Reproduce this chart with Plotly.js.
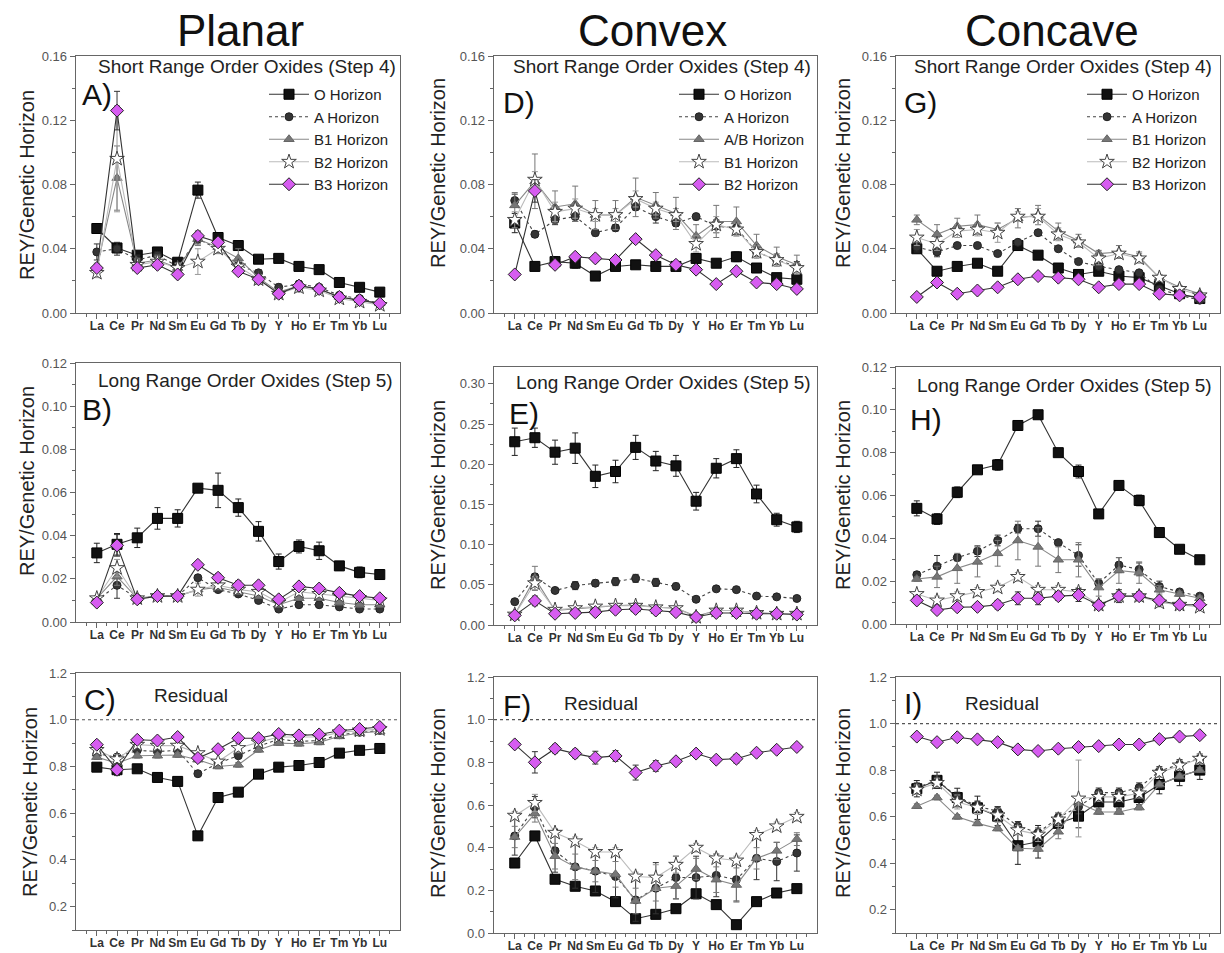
<!DOCTYPE html>
<html><head><meta charset="utf-8">
<script src="https://cdn.plot.ly/plotly-3.0.1.min.js"></script>
<style>html,body{margin:0;padding:0;background:#fff}#chart{width:1224px;height:953px}</style>
</head><body><div id="chart"></div>
<script>
// ---------- DATA ----------
const categories = ['La','Ce','Pr','Nd','Sm','Eu','Gd','Tb','Dy','Y','Ho','Er','Tm','Yb','Lu'];
const columnTitles = ['Planar','Convex','Concave'];
const planarNames  = ['O Horizon','A Horizon','B1 Horizon','B2 Horizon','B3 Horizon'];
const convexNames  = ['O Horizon','A Horizon','A/B Horizon','B1 Horizon','B2 Horizon'];
const concaveNames = ['O Horizon','A Horizon','B1 Horizon','B2 Horizon','B3 Horizon'];
const step4Title = 'Short Range Order Oxides (Step 4)';
const step5Title = 'Long Range Order Oxides (Step 5)';
const residualTitle = 'Residual';
const yTitle = 'REY/Genetic Horizon';

// Panel A (Planar, step 4)
const A_O   = [0.0526,0.0405,0.036,0.038,0.0316,0.0765,0.047,0.042,0.0335,0.034,0.029,0.027,0.019,0.016,0.013];
const A_A   = [0.038,0.040,0.033,0.036,0.029,0.046,0.040,0.030,0.025,0.016,0.018,0.016,0.011,0.009,0.006];
const A_B1  = [0.028,0.084,0.031,0.033,0.028,0.046,0.041,0.034,0.022,0.013,0.017,0.015,0.010,0.008,0.006];
const A_B2  = [0.025,0.096,0.030,0.032,0.028,0.032,0.040,0.029,0.021,0.012,0.016,0.014,0.009,0.007,0.005];
const A_B3  = [0.028,0.126,0.028,0.030,0.024,0.048,0.044,0.026,0.021,0.012,0.017,0.015,0.010,0.008,0.006];
const A_Oe  = [0.002,0.003,0.002,0.002,0.002,0.005,0.002,0.002,0.001,0.001,0.001,0.001,0.001,0.001,0.001];
const A_Ae  = [0.005,0.004,0.003,0.002,0.002,0.003,0.003,0.002,0.002,0.002,0.002,0.001,0.001,0.001,0.001];
const A_B1e = [0.003,0.020,0.003,0.003,0.003,0.004,0.003,0.006,0.002,0.002,0.002,0.001,0.001,0.001,0.001];
const A_B2e = [0.003,0.033,0.003,0.003,0.003,0.008,0.003,0.003,0.003,0.002,0.003,0.002,0.001,0.001,0.001];
const A_B3e = [0.002,0.012,0.002,0.002,0.002,0.003,0.002,0.002,0.002,0.002,0.002,0.001,0.001,0.001,0.001];

// Panel D (Convex, step 4)
const D_O   = [0.056,0.029,0.032,0.031,0.023,0.029,0.030,0.029,0.029,0.034,0.031,0.035,0.028,0.022,0.021];
const D_A   = [0.070,0.049,0.058,0.060,0.050,0.053,0.066,0.060,0.056,0.060,0.054,0.053,0.038,0.033,0.029];
const D_AB  = [0.067,0.082,0.066,0.068,0.061,0.061,0.072,0.067,0.062,0.048,0.057,0.057,0.042,0.035,0.030];
const D_B1  = [0.058,0.083,0.063,0.065,0.061,0.061,0.071,0.065,0.061,0.043,0.055,0.052,0.038,0.033,0.028];
const D_B2  = [0.024,0.076,0.030,0.035,0.034,0.033,0.046,0.036,0.030,0.027,0.018,0.026,0.019,0.018,0.015];
const D_Oe  = [0.006,0.002,0.003,0.003,0.002,0.002,0.002,0.002,0.002,0.003,0.002,0.003,0.002,0.002,0.002];
const D_Ae  = [0.004,0.002,0.003,0.003,0.002,0.002,0.002,0.004,0.002,0.002,0.004,0.004,0.003,0.003,0.003];
const D_ABe = [0.008,0.017,0.010,0.011,0.009,0.009,0.012,0.008,0.010,0.007,0.010,0.009,0.007,0.006,0.006];
const D_B1e = [0.005,0.005,0.006,0.006,0.004,0.004,0.005,0.004,0.004,0.005,0.005,0.004,0.004,0.004,0.003];
const D_B2e = [0.001,0.007,0.001,0.001,0.002,0.001,0.001,0.002,0.001,0.001,0.001,0.001,0.001,0.001,0.001];

// Panel G (Concave, step 4)
const G_O   = [0.040,0.026,0.029,0.031,0.026,0.042,0.036,0.028,0.024,0.026,0.023,0.022,0.017,0.012,0.009];
const G_A   = [0.041,0.038,0.042,0.042,0.037,0.044,0.050,0.040,0.032,0.029,0.027,0.025,0.015,0.011,0.008];
const G_B1  = [0.058,0.049,0.054,0.055,0.052,0.059,0.061,0.051,0.045,0.037,0.038,0.035,0.022,0.016,0.012];
const G_B2  = [0.047,0.043,0.051,0.052,0.050,0.060,0.060,0.049,0.044,0.034,0.037,0.034,0.022,0.015,0.011];
const G_B3  = [0.010,0.019,0.012,0.014,0.016,0.021,0.023,0.022,0.021,0.016,0.018,0.018,0.012,0.011,0.010];
const G_Oe  = [0.002,0.001,0.001,0.001,0.001,0.001,0.001,0.001,0.001,0.001,0.001,0.001,0.001,0.001,0.001];
const G_Ae  = [0.003,0.003,0.001,0.001,0.001,0.001,0.001,0.001,0.001,0.001,0.001,0.001,0.001,0.001,0.001];
const G_B1e = [0.003,0.006,0.005,0.006,0.004,0.006,0.006,0.005,0.004,0.002,0.004,0.003,0.002,0.001,0.001];
const G_B2e = [0.005,0.004,0.004,0.004,0.006,0.003,0.005,0.004,0.003,0.004,0.002,0.003,0.002,0.001,0.001];
const G_B3e = [0.001,0.001,0.001,0.001,0.001,0.001,0.001,0.001,0.001,0.001,0.001,0.001,0.001,0.001,0.001];

// Panel B (Planar, step 5)
const B_O   = [0.032,0.036,0.039,0.048,0.048,0.062,0.061,0.053,0.042,0.028,0.035,0.033,0.026,0.023,0.022];
const B_A   = [0.010,0.017,0.011,0.012,0.012,0.0205,0.015,0.013,0.010,0.006,0.008,0.008,0.007,0.006,0.006];
const B_B1  = [0.011,0.021,0.011,0.012,0.012,0.015,0.016,0.014,0.012,0.008,0.011,0.011,0.009,0.008,0.008];
const B_B2  = [0.011,0.025,0.011,0.012,0.012,0.015,0.017,0.015,0.014,0.009,0.014,0.013,0.012,0.011,0.010];
const B_B3  = [0.009,0.0355,0.0105,0.012,0.012,0.0265,0.0205,0.017,0.017,0.0105,0.0165,0.0155,0.0135,0.012,0.011];
const B_Oe  = [0.0045,0.005,0.0045,0.005,0.004,0.0015,0.008,0.004,0.0045,0.0035,0.003,0.004,0.002,0.0025,0.001];
const B_Ae  = [0.001,0.006,0.001,0.001,0.001,0.001,0.001,0.001,0.001,0.001,0.001,0.001,0.001,0.001,0.001];
const B_B1e = [0.001,0.004,0.001,0.001,0.001,0.001,0.001,0.001,0.001,0.001,0.001,0.001,0.001,0.001,0.001];
const B_B2e = [0.001,0.004,0.001,0.002,0.001,0.003,0.001,0.001,0.001,0.001,0.001,0.001,0.001,0.001,0.001];
const B_B3e = [0.001,0.005,0.001,0.001,0.001,0.001,0.002,0.002,0.001,0.001,0.001,0.001,0.001,0.001,0.001];

// Panel E (Convex, step 5)
const E_O   = [0.228,0.233,0.215,0.220,0.185,0.191,0.221,0.204,0.198,0.154,0.195,0.207,0.163,0.131,0.122];
const E_A   = [0.029,0.060,0.043,0.049,0.052,0.054,0.058,0.053,0.048,0.032,0.045,0.044,0.036,0.035,0.033];
const E_AB  = [0.013,0.058,0.018,0.020,0.022,0.024,0.025,0.022,0.021,0.011,0.018,0.018,0.015,0.014,0.014];
const E_B1  = [0.013,0.052,0.019,0.021,0.023,0.024,0.024,0.022,0.021,0.010,0.018,0.018,0.015,0.014,0.014];
const E_B2  = [0.012,0.030,0.014,0.015,0.016,0.019,0.020,0.018,0.016,0.010,0.015,0.015,0.014,0.014,0.013];
const E_Oe  = [0.017,0.012,0.015,0.019,0.014,0.014,0.015,0.012,0.013,0.011,0.012,0.011,0.011,0.008,0.007];
const E_Ae  = [0.002,0.004,0.003,0.005,0.004,0.005,0.005,0.005,0.004,0.002,0.003,0.003,0.002,0.002,0.002];
const E_ABe = [0.002,0.015,0.002,0.002,0.002,0.002,0.002,0.002,0.002,0.002,0.002,0.002,0.002,0.002,0.002];
const E_B1e = [0.002,0.008,0.002,0.002,0.002,0.002,0.002,0.002,0.002,0.002,0.002,0.002,0.002,0.002,0.002];
const E_B2e = [0.002,0.006,0.002,0.002,0.002,0.002,0.002,0.002,0.002,0.002,0.002,0.002,0.002,0.002,0.002];

// Panel H (Concave, step 5)
const H_O   = [0.054,0.049,0.0615,0.072,0.0743,0.0927,0.0977,0.080,0.0712,0.0514,0.0647,0.0577,0.0427,0.0349,0.030];
const H_A   = [0.023,0.027,0.031,0.034,0.039,0.0445,0.0445,0.038,0.032,0.019,0.0275,0.0255,0.0175,0.015,0.013];
const H_B1  = [0.021,0.022,0.026,0.029,0.033,0.039,0.036,0.030,0.030,0.017,0.025,0.024,0.016,0.014,0.012];
const H_B2  = [0.014,0.011,0.013,0.015,0.017,0.022,0.016,0.016,0.015,0.009,0.013,0.013,0.010,0.009,0.008];
const H_B3  = [0.011,0.0065,0.0078,0.008,0.009,0.012,0.012,0.013,0.0135,0.0088,0.013,0.013,0.011,0.009,0.009];
const H_Oe  = [0.0035,0.0025,0.0025,0.0015,0.0025,0.0015,0.0015,0.0007,0.003,0.0015,0.0007,0.0025,0.0015,0.0007,0.0015];
const H_Ae  = [0.0015,0.005,0.0015,0.0025,0.0025,0.002,0.0035,0.001,0.005,0.002,0.0035,0.003,0.0025,0.001,0.001];
const H_B1e = [0.001,0.005,0.007,0.007,0.006,0.009,0.009,0.006,0.008,0.004,0.006,0.005,0.002,0.001,0.001];
const H_B2e = [0.001,0.002,0.002,0.002,0.002,0.002,0.002,0.002,0.002,0.002,0.002,0.002,0.002,0.001,0.001];
const H_B3e = [0.001,0.001,0.001,0.001,0.002,0.003,0.003,0.002,0.003,0.001,0.003,0.002,0.002,0.001,0.001];

// Panel C (Planar, residual)
const C_O   = [0.797,0.786,0.790,0.753,0.736,0.503,0.667,0.690,0.767,0.797,0.804,0.817,0.857,0.869,0.877];
const C_A   = [0.854,0.840,0.869,0.864,0.869,0.769,0.814,0.846,0.886,0.917,0.907,0.911,0.936,0.946,0.954];
const C_B1  = [0.840,0.814,0.846,0.846,0.849,0.829,0.800,0.807,0.871,0.900,0.897,0.903,0.929,0.943,0.950];
const C_B2  = [0.871,0.831,0.893,0.889,0.889,0.857,0.821,0.879,0.903,0.926,0.926,0.926,0.946,0.954,0.960];
const C_B3  = [0.893,0.786,0.914,0.911,0.926,0.836,0.874,0.921,0.921,0.939,0.933,0.937,0.953,0.960,0.969];
const C_Oe  = [0.008,0.008,0.008,0.008,0.008,0.008,0.008,0.008,0.008,0.008,0.008,0.008,0.008,0.008,0.008];
const C_Ae  = [0.010,0.010,0.010,0.010,0.010,0.010,0.010,0.010,0.010,0.010,0.010,0.010,0.010,0.010,0.010];
const C_B1e = [0.010,0.020,0.010,0.010,0.010,0.010,0.010,0.010,0.010,0.010,0.010,0.010,0.010,0.010,0.010];
const C_B2e = [0.010,0.020,0.010,0.010,0.010,0.010,0.010,0.020,0.010,0.010,0.010,0.010,0.010,0.010,0.010];
const C_B3e = [0.010,0.025,0.010,0.010,0.010,0.010,0.010,0.010,0.010,0.010,0.010,0.010,0.010,0.010,0.010];

// Panel F (Convex, residual)
const F_O   = [0.328,0.455,0.252,0.219,0.197,0.147,0.067,0.0875,0.114,0.184,0.133,0.039,0.147,0.1875,0.208];
const F_A   = [0.455,0.590,0.385,0.310,0.290,0.265,0.155,0.210,0.260,0.260,0.270,0.250,0.350,0.335,0.375];
const F_AB  = [0.450,0.560,0.360,0.310,0.290,0.275,0.150,0.210,0.220,0.300,0.250,0.225,0.350,0.385,0.440];
const F_B1  = [0.550,0.610,0.470,0.430,0.380,0.380,0.265,0.260,0.320,0.400,0.350,0.340,0.460,0.500,0.545];
const F_B2  = [0.884,0.800,0.864,0.841,0.822,0.830,0.752,0.783,0.805,0.841,0.8125,0.817,0.845,0.859,0.872];
const F_Oe  = [0.010,0.010,0.010,0.010,0.010,0.010,0.015,0.010,0.010,0.010,0.010,0.010,0.010,0.010,0.010];
const F_Ae  = [0.090,0.050,0.100,0.100,0.100,0.100,0.100,0.120,0.100,0.100,0.100,0.100,0.100,0.090,0.085];
const F_ABe = [0.050,0.040,0.060,0.060,0.050,0.060,0.060,0.060,0.060,0.050,0.060,0.080,0.050,0.040,0.030];
const F_B1e = [0.020,0.040,0.020,0.020,0.020,0.020,0.020,0.060,0.040,0.020,0.020,0.020,0.020,0.020,0.020];
const F_B2e = [0.010,0.050,0.020,0.020,0.030,0.025,0.035,0.025,0.015,0.010,0.015,0.020,0.010,0.010,0.010];

// Panel I (Concave, residual)
const I_O   = [0.720,0.756,0.682,0.638,0.602,0.475,0.492,0.571,0.602,0.663,0.663,0.682,0.738,0.773,0.800];
const I_A   = [0.725,0.756,0.685,0.645,0.623,0.559,0.531,0.596,0.642,0.703,0.703,0.725,0.795,0.825,0.849];
const I_B1  = [0.645,0.682,0.599,0.571,0.549,0.464,0.461,0.535,0.660,0.620,0.620,0.639,0.738,0.773,0.800];
const I_B2  = [0.716,0.745,0.663,0.639,0.606,0.542,0.523,0.588,0.678,0.685,0.685,0.700,0.789,0.820,0.849];
const I_B3  = [0.944,0.920,0.941,0.932,0.920,0.889,0.882,0.892,0.899,0.903,0.910,0.910,0.933,0.944,0.950];
const I_Oe  = [0.035,0.035,0.040,0.050,0.040,0.080,0.070,0.040,0.050,0.030,0.030,0.030,0.040,0.040,0.040];
const I_Ae  = [0.020,0.020,0.020,0.020,0.020,0.020,0.020,0.020,0.030,0.020,0.020,0.020,0.020,0.020,0.020];
const I_B1e = [0.010,0.010,0.010,0.010,0.010,0.010,0.010,0.030,0.010,0.010,0.010,0.010,0.010,0.010,0.010];
const I_B2e = [0.020,0.020,0.030,0.030,0.030,0.020,0.030,0.030,0.165,0.020,0.020,0.020,0.020,0.020,0.020];
const I_B3e = [0.005,0.005,0.005,0.005,0.005,0.005,0.005,0.005,0.005,0.005,0.005,0.005,0.005,0.005,0.005];

// ---------- STYLE / LAYOUT ----------
const W = 1224, H = 953;
const FONT = 'Liberation Sans, Arial, Helvetica, sans-serif';
const VIOLET = '#D65CF0';
const styles = [
  {symbol:'square',      size:10, fill:'#111111', mline:'#000000', lcolor:'#333333', dash:'solid', ecolor:'#222222'},
  {symbol:'circle',      size:8,  fill:'#353535', mline:'#222222', lcolor:'#444444', dash:'dot',   ecolor:'#333333'},
  {symbol:'triangle-up', size:9,  fill:'#777777', mline:'#666666', lcolor:'#888888', dash:'solid', ecolor:'#777777'},
  {symbol:'star',        size:11, fill:'#ffffff', mline:'#444444', lcolor:'#bbbbbb', dash:'solid', ecolor:'#999999'},
  {symbol:'diamond',     size:10, fill:VIOLET,    mline:'#222222', lcolor:'#333333', dash:'solid', ecolor:'#333333'}
];

const px = x => x / W;
const py = y => 1 - y / H;

// panel frames in pixels [left, right, top, bottom]
const frames = [
  [76,400,56,313],[494,817,56,313],[896,1220,56,313],
  [76,400,363,622],[494,817,367,625],[896,1220,367,624],
  [76,400,673,930],[494,817,677,933],[896,1220,677,933]
];
const yRanges = [[0,0.16],[0,0.16],[0,0.16],[0,0.12],[0,0.321],[0,0.12],[0.1,1.2],[0,1.2],[0.1,1.2]];
const yDticks = [0.04,0.04,0.04,0.02,0.05,0.02,0.2,0.2,0.2];
const yFormats = ['.2f','.2f','.2f','.2f','.2f','.2f','.1f','.1f','.1f'];

const panels = [
  {names:planarNames,  ys:[A_O,A_A,A_B1,A_B2,A_B3], es:[A_Oe,A_Ae,A_B1e,A_B2e,A_B3e], legend:'legend'},
  {names:convexNames,  ys:[D_O,D_A,D_AB,D_B1,D_B2], es:[D_Oe,D_Ae,D_ABe,D_B1e,D_B2e], legend:'legend2'},
  {names:concaveNames, ys:[G_O,G_A,G_B1,G_B2,G_B3], es:[G_Oe,G_Ae,G_B1e,G_B2e,G_B3e], legend:'legend3'},
  {names:planarNames,  ys:[B_O,B_A,B_B1,B_B2,B_B3], es:[B_Oe,B_Ae,B_B1e,B_B2e,B_B3e]},
  {names:convexNames,  ys:[E_O,E_A,E_AB,E_B1,E_B2], es:[E_Oe,E_Ae,E_ABe,E_B1e,E_B2e]},
  {names:concaveNames, ys:[H_O,H_A,H_B1,H_B2,H_B3], es:[H_Oe,H_Ae,H_B1e,H_B2e,H_B3e]},
  {names:planarNames,  ys:[C_O,C_A,C_B1,C_B2,C_B3], es:[C_Oe,C_Ae,C_B1e,C_B2e,C_B3e]},
  {names:convexNames,  ys:[F_O,F_A,F_AB,F_B1,F_B2], es:[F_Oe,F_Ae,F_ABe,F_B1e,F_B2e]},
  {names:concaveNames, ys:[I_O,I_A,I_B1,I_B2,I_B3], es:[I_Oe,I_Ae,I_B1e,I_B2e,I_B3e]}
];

const xIdx = categories.map((_, i) => i);
const traces = [];
const layout = {
  width: W, height: H,
  margin: {l:0, r:0, t:0, b:0},
  paper_bgcolor: '#ffffff', plot_bgcolor: '#ffffff',
  font: {family: FONT, color: '#222'},
  showlegend: true,
  annotations: [], shapes: []
};

panels.forEach((p, k) => {
  const n = k + 1;
  const xs = n === 1 ? 'x' : 'x' + n;
  const ys = n === 1 ? 'y' : 'y' + n;
  p.ys.forEach((vals, s) => {
    const st = styles[s];
    traces.push({
      type: 'scatter', mode: 'lines+markers',
      x: xIdx, y: vals, xaxis: xs, yaxis: ys,
      name: p.names[s],
      showlegend: !!p.legend,
      legend: p.legend || 'legend',
      line: {color: st.lcolor, width: 1.1, dash: st.dash},
      marker: {symbol: st.symbol, size: st.size, color: st.fill, line: {color: st.mline, width: 1}},
      error_y: {type: 'data', array: p.es[s], visible: true, color: st.ecolor, thickness: 1, width: 3},
      hoverinfo: 'skip'
    });
  });
  const f = frames[k];
  const xKey = n === 1 ? 'xaxis' : 'xaxis' + n;
  const yKey = n === 1 ? 'yaxis' : 'yaxis' + n;
  layout[xKey] = {
    domain: [px(f[0]), px(f[1])], anchor: ys,
    range: [-1.03, 15.0],
    tickmode: 'array', tickvals: xIdx, ticktext: categories,
    ticks: 'outside', ticklen: 5, tickcolor: '#666', tickwidth: 1,
    ticklabelstandoff: -4,
    minor: {ticks: 'outside', ticklen: 3, tickcolor: '#666', tickmode: 'linear', tick0: -0.5, dtick: 1},
    tickfont: {family: FONT, size: 12, color: '#333', weight: 'bold'},
    showline: true, mirror: true, linecolor: '#666', linewidth: 1.3,
    showgrid: false, zeroline: false, fixedrange: true
  };
  layout[yKey] = {
    domain: [py(f[3]), py(f[2])], anchor: xs,
    range: yRanges[k],
    tick0: 0, dtick: yDticks[k], tickformat: yFormats[k],
    ticks: 'outside', ticklen: 5, tickcolor: '#666', tickwidth: 1,
    minor: {ticks: 'outside', ticklen: 3, tickcolor: '#666', dtick: yDticks[k] / 2, tick0: 0},
    tickfont: {family: FONT, size: 13, color: '#555'},
    showline: true, mirror: true, linecolor: '#666', linewidth: 1.3,
    showgrid: false, zeroline: false, fixedrange: true
  };
  if (k >= 6) {
    layout.shapes.push({type: 'line', xref: xs + ' domain', yref: ys, x0: 0, x1: 1, y0: 1.0, y1: 1.0,
      line: {color: '#555', width: 1.2, dash: 'dot'}});
  }
});

// legends (top row)
const legendBase = {bgcolor: 'rgba(0,0,0,0)', borderwidth: 0, xanchor: 'left', yanchor: 'top',
  font: {family: FONT, size: 15, color: '#222'}, tracegroupgap: 0, itemwidth: 40};
layout.legend  = Object.assign({}, legendBase, {x: px(264), y: py(78)});
layout.legend2 = Object.assign({}, legendBase, {x: px(674), y: py(78)});
layout.legend3 = Object.assign({}, legendBase, {x: px(1082), y: py(78)});

// text annotations
const ann = (x, y, text, size, xanchor, extra) => layout.annotations.push(Object.assign({
  xref: 'paper', yref: 'paper', x: px(x), y: py(y), text: text, showarrow: false,
  xanchor: xanchor, yanchor: 'middle', font: {family: FONT, size: size, color: '#111'}
}, extra || {}));

// column titles
ann(240, 30, columnTitles[0], 44, 'center');
ann(652, 30, columnTitles[1], 44, 'center');
ann(1052, 30, columnTitles[2], 44, 'center');

// panel letters
const letters = [['A)',80,95],['D)',501,103],['G)',902,103],['B)',80,409],['E)',507,413],['H)',908,419],['C)',82,699],['F)',501,705],['I)',902,703]];
letters.forEach(l => ann(l[1], l[2], l[0], 30, 'left'));

// inner titles
const tf = {font:{family:FONT,size:19,color:'#222'}};
ann(398, 67, step4Title, 19, 'right', tf);
ann(813, 67, step4Title, 19, 'right', tf);
ann(1214, 67, step4Title, 19, 'right', tf);
ann(395, 380, step5Title, 19, 'right', tf);
ann(813, 383, step5Title, 19, 'right', tf);
ann(1214, 385, step5Title, 19, 'right', tf);
ann(152, 695, residualTitle, 19, 'left', tf);
ann(562, 703, residualTitle, 19, 'left', tf);
ann(963, 703, residualTitle, 19, 'left', tf);

// y-axis titles
const yTitlePos = [[27,185],[438,173],[843,173],[27,481],[438,495],[843,495],[30,802],[438,803],[843,803]];
yTitlePos.forEach(p => ann(p[0], p[1], yTitle, 20, 'center', {textangle: -90, font:{family:FONT,size:20,color:'#222'}}));

Plotly.newPlot('chart', traces, layout, {staticPlot: true, displayModeBar: false});
</script>
</body></html>
